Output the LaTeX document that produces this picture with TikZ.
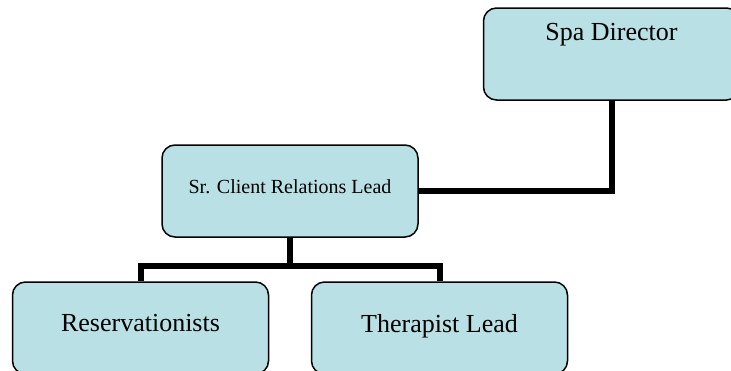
\documentclass[tikz,border=0pt]{standalone}
\usepackage{fontspec}
\setmainfont{Liberation Serif}
\definecolor{boxfill}{RGB}{185,224,228}
\tikzset{
  orgbox/.style={draw=black, line width=1.5pt, fill=boxfill, rounded corners=13pt,
    minimum width=256pt, minimum height=92pt, inner sep=0pt},
  biglbl/.style={anchor=base, inner sep=0pt, font=\fontsize{26}{30}\selectfont},
  smalllbl/.style={anchor=base, inner sep=0pt, font=\fontsize{20}{24}\selectfont},
  link/.style={line width=6pt, draw=black}
}
\begin{document}
\begin{tikzpicture}[x=1pt,y=-1pt]
\useasboundingbox (0,0) rectangle (731,370);
\clip (0,0) rectangle (731,370);
\fill[white] (0,0) rectangle (731,370);
% boxes
\node[orgbox] (spa) at (611.5,54) {};
\node[orgbox] (sr) at (290,191) {};
\node[orgbox] (res) at (140.5,328) {};
\node[orgbox] (ther) at (439.5,328) {};
% connectors
\coordinate (bus) at (290,266);
\draw[link] (spa.south) |- (sr.east);
\draw[link] (sr.south) -- (bus);
\draw[link] (res.north) |- (bus) -| (ther.north);
% labels
\node[biglbl] (spat) at (611.5,40) {Spa Director};
\node[smalllbl] (srt) at (290,193) {Sr. Client Relations Lead};
\node[biglbl] (rest) at (140.5,331) {Reservationists};
\node[biglbl] (thert) at (439.5,332) {Therapist Lead};
\end{tikzpicture}
\end{document}
